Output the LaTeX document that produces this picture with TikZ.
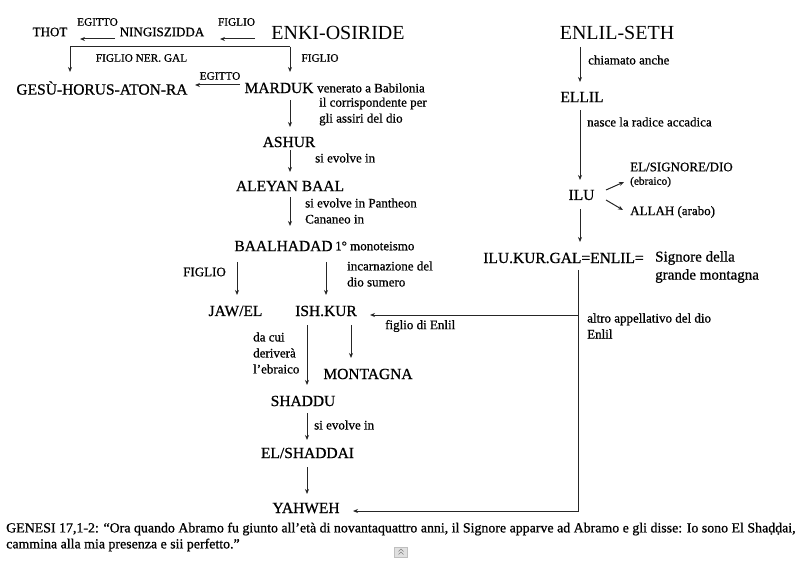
\documentclass[tikz,border=0pt]{standalone}
\usepackage{fontspec}
\setmainfont{Liberation Serif}[BoldFont={Liberation Serif}, BoldFeatures={FakeBold=0.8}]
\usetikzlibrary{arrows.meta,calc}
\begin{document}
\begin{tikzpicture}[x=1pt,y=-1pt,
  main/.style={font=\fontsize{15.5}{17}\selectfont\bfseries, inner sep=0pt},
  mid/.style={font=\fontsize{13}{15}\selectfont\bfseries, inner sep=0pt},
  big/.style={font=\fontsize{20}{22}\selectfont, inner sep=0pt},
  tiny/.style={font=\fontsize{11.3}{13}\selectfont\bfseries, inner sep=0pt},
  note/.style={font=\fontsize{13}{16}\selectfont\bfseries, inner sep=0pt, anchor=west, align=left},
  arr/.style={draw=black!85, line width=1pt, -{Stealth[length=5pt,width=4pt]}},
  ln/.style={draw=black!85, line width=1pt}]
\useasboundingbox (0,0) rectangle (800,561);
% main nodes
\node[mid] (thot) at (50,32) {THOT};
\node[mid] (ning) at (162,32) {NINGISZIDDA};
\node[big] (enki) at (338,33) {ENKI-OSIRIDE};
\node[main] (gesu) at (102,88) {GESÙ-HORUS-ATON-RA};
\node[main] (marduk) at (279,88) {MARDUK};
\node[main] (ashur) at (289,142) {ASHUR};
\node[main] (aleyan) at (290,186) {ALEYAN BAAL};
\node[main] (baal) at (283.5,246) {BAALHADAD};
\node[main] (jaw) at (235.5,311) {JAW/EL};
\node[main] (ishkur) at (326,311) {ISH.KUR};
\node[main] (montagna) at (368,374) {MONTAGNA};
\node[main] (shaddu) at (303,401) {SHADDU};
\node[main] (elsh) at (307.5,453) {EL/SHADDAI};
\node[main] (yahweh) at (306,508) {YAHWEH};
\node[big] (enlil) at (617,33) {ENLIL-SETH};
\node[main] (ellil) at (582,97) {ELLIL};
\node[main] (ilu) at (581.5,195) {ILU};
\node[main] (ilukur) at (563.5,258) {ILU.KUR.GAL=ENLIL=};
\node[mid, anchor=west] (elsig) at (630,167) {EL/SIGNORE/DIO};
\node[mid, anchor=west] (allah) at (630,212) {ALLAH (arabo)};
% small labels
\node[tiny] (l1) at (97.5,22) {EGITTO};
\node[tiny] (l2) at (236.5,22) {FIGLIO};
\node[tiny] (l3) at (141.5,58) {FIGLIO NER. GAL};
\node[tiny] (l4) at (320,58) {FIGLIO};
\node[tiny] (l5) at (220,76) {EGITTO};
\node[note] (n1) at (317,88) {venerato a Babilonia};
\node[note] (n2) at (319,111.5) {il corrispondente per\\gli assiri del dio};
\node[note] (n3) at (315,158) {si evolve in};
\node[note] (n4) at (305,211) {si evolve in Pantheon\\Cananeo in};
\node[note] (n5) at (335,246) {1° monoteismo};
\node[mid] (n6) at (204.5,272) {FIGLIO};
\node[note] (n7) at (347,274) {incarnazione del\\dio sumero};
\node[note] (n8) at (385,326) {figlio di Enlil};
\node[note] (n9) at (253,353) {da cui\\deriverà\\l’ebraico};
\node[note] (n10) at (314,425) {si evolve in};
\node[note] (n11) at (588,60) {chiamato anche};
\node[note] (n12) at (587,122) {nasce la radice accadica};
\node[note, font=\fontsize{11.3}{13}\selectfont\bfseries] (n13) at (630,182) {(ebraico)};
\node[note, font=\fontsize{15}{18}\selectfont\bfseries] (n14) at (655,267) {Signore della\\grande montagna};
\node[note] (n15) at (587,326) {altro appellativo del dio\\Enlil};
% caption
\node[note, font=\fontsize{13.9}{16}\selectfont\bfseries] (cap) at (6,537) {GENESI 17,1-2: “Ora quando Abramo fu giunto all’età di novantaquattro anni, il Signore apparve ad Abramo e gli disse: Io sono El Sha\d{d}\d{d}ai,\\cammina alla mia presenza e sii perfetto.”};
% gray icon
\node[draw=black!25, fill=black!12, minimum width=13pt, minimum height=10pt, inner sep=0pt] (icon) at (401,552) {};
\draw[black!50, line width=0.6pt] ($(icon.center)+(-2.5,-0.5)$) -- ($(icon.center)+(0,-3)$) -- ($(icon.center)+(2.5,-0.5)$);
\draw[black!50, line width=0.6pt] ($(icon.center)+(-2.5,2.5)$) -- ($(icon.center)+(0,0)$) -- ($(icon.center)+(2.5,2.5)$);
% connectors
\draw[arr] ($(ning.center)+(-47,7)$) -- ($(thot.center)+(30,7)$);
\draw[arr] ($(enki.center)+(-83,6)$) -- ($(ning.center)+(58,7)$);
\coordinate (split) at ($(enki.center)+(-48,14)$);
\draw[arr] (split) -- ($(marduk.center)+(11,-16)$);
\draw[arr] (split) -| ($(gesu.center)+(-32,-16)$);
\draw[arr] ($(marduk.center)+(-39,-3)$) -- ($(gesu.center)+(93,-3)$);
\draw[arr] ($(marduk.center)+(11,12)$) -- ($(ashur.center)+(1,-15)$);
\draw[arr] ($(ashur.center)+(1,8)$) -- ($(aleyan.center)+(0,-14)$);
\draw[arr] ($(aleyan.center)+(0,11)$) -- ($(baal.center)+(6.5,-20)$);
\draw[arr] ($(baal.center)+(-46.5,16)$) -- ($(jaw.center)+(1.5,-16)$);
\draw[arr] ($(baal.center)+(42.5,16)$) -- ($(ishkur.center)+(0,-16)$);
\coordinate (vtop) at ($(ilukur.center)+(14.5,12)$);
\coordinate (branch) at ($(ilukur.center)+(14.5,57)$);
\draw[arr] (vtop) |- ($(yahweh.center)+(47,3)$);
\draw[arr] (branch) -- ($(ishkur.center)+(44,4)$);
\draw[arr] ($(ishkur.center)+(-19,14)$) -- ($(shaddu.center)+(4,-16)$);
\draw[arr] ($(ishkur.center)+(25,14)$) -- ($(montagna.center)+(-17,-16)$);
\draw[arr] ($(shaddu.center)+(4,12)$) -- ($(elsh.center)+(-0.5,-13)$);
\draw[arr] ($(elsh.center)+(-0.5,14)$) -- ($(yahweh.center)+(1,-14)$);
\draw[arr] ($(enlil.center)+(-37,14)$) -- ($(ellil.center)+(-2,-15)$);
\draw[arr] ($(ellil.center)+(-2,13)$) -- ($(ilu.center)+(-1.5,-15)$);
\draw[arr] ($(ilu.center)+(24.5,-5)$) -- ($(elsig.west)+(-6,15)$);
\draw[arr] ($(ilu.center)+(24.5,5)$) -- ($(allah.west)+(-7,-2)$);
\draw[arr] ($(ilu.center)+(-1.5,14)$) -- ($(ilukur.center)+(16.5,-16)$);
\end{tikzpicture}
\end{document}
